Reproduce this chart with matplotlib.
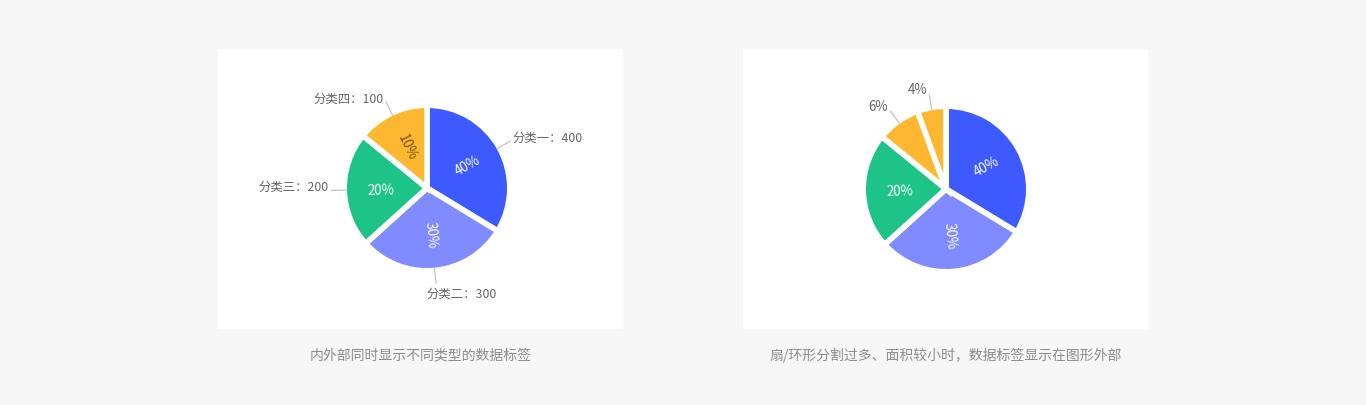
import matplotlib
matplotlib.use("Agg")
import matplotlib.pyplot as plt
import numpy as np

plt.rcParams['font.family'] = ['Noto Sans CJK SC', 'DejaVu Sans']

# ---------------- data ----------------
categories = ["分类一", "分类二", "分类三", "分类四"]
values = [400, 300, 200, 100]
left_pct_labels = ["40%", "30%", "20%", "10%"]
# visible slice shares as drawn in the picture
left_shares = [33.7, 29.6, 22.6, 14.1]

right_pct_labels = ["40%", "30%", "20%", "6%", "4%"]
right_shares = [33.7, 29.6, 22.6, 8.5, 5.6]
right_outside = [False, False, False, True, True]

left_colors = ["#3D5AFE", "#7F8BFF", "#1EC487", "#FDB731"]
right_colors = ["#3D5AFE", "#7F8BFF", "#1EC487", "#FDB731", "#FDB731"]
inner_text_colors_left = ["white", "white", "white", (0, 0, 0, 0.55)]
inner_text_colors_right = ["white", "white", "white", "white", "white"]

# label alignment for outside labels (ha, dx, dy in px, fontsize)
left_outer_align = [("left", 2, 4, 8.9), ("left", -10, -10, 8.9),
                    ("right", -2, 4, 8.9), ("right", -2, 3, 8.9)]
right_outer_align = [None, None, None, ("right", -2, 5, 9.6), ("right", -2, 5, 9.6)]

captions = ["内外部同时显示不同类型的数据标签",
            "扇/环形分割过多、面积较小时，数据标签显示在图形外部"]

# ---------------- layout ----------------
W, H = 1366, 406
R = 80.0          # visible pie radius (px)
GAP_LW = 4.0      # white separator width (pt)
fig = plt.figure(figsize=(W / 100, H / 100), dpi=100, facecolor="#F7F7F7")

def make_panel(x0, x1, y0, y1, cx, cy):
    ax = fig.add_axes([x0 / W, (H - y1) / H, (x1 - x0) / W, (y1 - y0) / H])
    ax.set_facecolor("white")
    return ax, (x0 - cx, x1 - cx), (cy - y1, cy - y0)

def draw_pie(ax, xlim, ylim, shares, colors, pct_labels, txt_colors, outside,
             outer_texts, outer_align, outer_color):
    wedges, _ = ax.pie(shares, colors=colors, startangle=90, counterclock=False,
                       radius=R + GAP_LW / 0.72 / 2, center=(0, 0), frame=True,
                       wedgeprops=dict(edgecolor="white", linewidth=GAP_LW))
    ax.set_xlim(*xlim)
    ax.set_ylim(*ylim)
    ax.set_xticks([])
    ax.set_yticks([])
    for s in ax.spines.values():
        s.set_visible(False)
    for i, w in enumerate(wedges):
        mid = (w.theta1 + w.theta2) / 2.0
        a = np.deg2rad(mid)
        if not outside[i]:
            rot = mid
            while rot > 90:
                rot -= 180
            while rot < -90:
                rot += 180
            r_in = 0.58 * R
            ax.text(r_in * np.cos(a), r_in * np.sin(a), pct_labels[i],
                    ha="center", va="center", rotation=rot, rotation_mode="anchor",
                    color=txt_colors[i], fontsize=9.6)
        if outer_texts[i] is not None:
            r0, r1 = R, R * 1.2
            x0, y0 = r0 * np.cos(a), r0 * np.sin(a)
            x1, y1 = r1 * np.cos(a), r1 * np.sin(a)
            ax.plot([x0, x1], [y0, y1], color="#BDBDBD", lw=0.8, solid_capstyle="butt")
            ha, dx, dy, fs = outer_align[i]
            ax.text(x1 + dx, y1 + dy, outer_texts[i], ha=ha, va="center",
                    color=outer_color, fontsize=fs)

# left panel
axL, xl, yl = make_panel(218, 623, 50, 330, 427, 189)
outer_left = [f"{c}：{v}" for c, v in zip(categories, values)]
draw_pie(axL, xl, yl, left_shares, left_colors, left_pct_labels,
         inner_text_colors_left, [False] * 4, outer_left, left_outer_align, "#666666")

# right panel
axR, xr, yr = make_panel(743, 1148, 50, 330, 946, 190)
outer_right = [lab if o else None for lab, o in zip(right_pct_labels, right_outside)]
draw_pie(axR, xr, yr, right_shares, right_colors, right_pct_labels,
         inner_text_colors_right, right_outside, outer_right, right_outer_align, "#666666")

# captions
for cx, cap in zip([420.5, 945.5], captions):
    fig.text(cx / W, 1 - 355 / H, cap, ha="center", va="center",
             color="#8C8C8C", fontsize=10)

fig.savefig("out.png", dpi=100, facecolor=fig.get_facecolor())
